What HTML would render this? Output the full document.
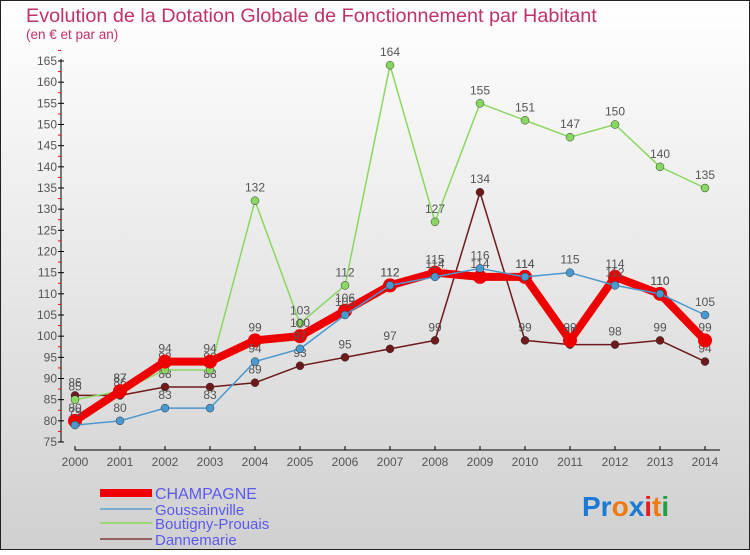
<!DOCTYPE html>
<html><head><meta charset="utf-8"><style>
body{margin:0;width:750px;height:550px;overflow:hidden;font-family:"Liberation Sans",sans-serif}
</style></head><body>
<svg id="c" width="750" height="550" xmlns="http://www.w3.org/2000/svg">
<defs><linearGradient id="bg" x1="0" y1="0" x2="0" y2="1"><stop offset="0" stop-color="#ffffff"/><stop offset="1" stop-color="#d0d0d0"/></linearGradient></defs>
<rect x="0.5" y="0.5" width="749" height="549" fill="url(#bg)" stroke="#222"/>
<text x="26" y="22" font-size="19.8" fill="#c0306a">Evolution de la Dotation Globale de Fonctionnement par Habitant</text>
<text x="26" y="39" font-size="13.5" fill="#c0306a">(en € et par an)</text>
<g id="axes"></g><g id="series"></g><g id="legend"></g>
<g font-size="28" font-weight="bold" font-family="'Liberation Sans',sans-serif">
<text x="582" y="516"><tspan fill="#1a7ad4">Pr</tspan><tspan fill="#f07a10">o</tspan><tspan fill="#1a7ad4">x</tspan><tspan fill="#e02020">i</tspan><tspan fill="#f07a10">t</tspan><tspan fill="#20a040">i</tspan></text>
</g>
</svg>
<script>
const years=[2000,2001,2002,2003,2004,2005,2006,2007,2008,2009,2010,2011,2012,2013,2014];
const champagne=[80,87,94,94,99,100,106,112,115,114,114,99,114,110,99];
const goussainville=[79,80,83,83,94,97,105,112,114,116,114,115,112,110,105];
const boutigny=[85,87,92,92,132,103,112,164,127,155,151,147,150,140,135];
const dannemarie=[86,86,88,88,89,93,95,97,99,134,99,98,98,99,94];
const yTicks=[75,80,85,90,95,100,105,110,115,120,125,130,135,140,145,150,155,160,165];
const NS='http://www.w3.org/2000/svg';
const X=i=>75+i*45;
const Y=v=>442-(v-75)*(381/90);
function mk(tag,attrs,parent){const e=document.createElementNS(NS,tag);for(const k in attrs)e.setAttribute(k,attrs[k]);parent.appendChild(e);return e;}
const axes=document.getElementById('axes');
let yl=mk('line',{x1:61,y1:Y(165)-2,x2:61,y2:Y(75),stroke:'#000'},axes);


yTicks.forEach(t=>{
  mk('line',{x1:58,x2:64,y1:Y(t),y2:Y(t),stroke:'#000'},axes);
  mk('line',{x1:58,x2:61,y1:Y(t+2.5),y2:Y(t+2.5),stroke:'#f00'},axes);
  const tx=mk('text',{x:57,y:Y(t)+4,'text-anchor':'end','font-size':12,fill:'#555'},axes);
  tx.textContent=t;
  
  
});
let xl=mk('line',{x1:75,y1:450,x2:720,y2:450,stroke:'#000'},axes);


years.forEach((y,i)=>{
  mk('line',{x1:X(i),x2:X(i),y1:446,y2:450,stroke:'#000'},axes);
  const tx=mk('text',{x:X(i),y:466,'text-anchor':'middle','font-size':12,fill:'#555'},axes);
  tx.textContent=y;
  
  
});
const ser=document.getElementById('series');
const defs=[
 {name:'dannemarie',data:dannemarie,c:'#6e1a1a',w:1.5,r:4},
 {name:'boutigny-prouais',data:boutigny,c:'#88d860',w:1.5,r:4},
 {name:'champagne',data:champagne,c:'#ee0000',w:8,r:7},
 {name:'goussainville',data:goussainville,c:'#4a98d0',w:1.5,r:4}
];
defs.forEach(s=>{
  const g=mk('g',{},ser);
  
  
  const pl=mk('polyline',{points:s.data.map((v,i)=>X(i)+','+Y(v)).join(' '),fill:'none',stroke:s.c,'stroke-width':s.w,'stroke-linejoin':'round'},g);
  
  
  s.data.forEach((v,i)=>{
    const c=mk('circle',{cx:X(i),cy:Y(v),r:s.r,fill:s.c,stroke:s.name==='champagne'?'#ee0000':'#333','stroke-width':s.name==='champagne'?0:0.5},g);
    
    
    const t=mk('text',{x:X(i),y:Y(v)-9,'text-anchor':'middle','font-size':12,fill:'#555'},g);
    t.textContent=v;
    
    
  });
});
const leg=document.getElementById('legend');
const li=[['CHAMPAGNE','#ee0000',8,'champagne'],['Goussainville','#7aaed0',2,'goussainville'],['Boutigny-Prouais','#98d878',2,'boutigny-prouais'],['Dannemarie','#946060',2,'dannemarie']];
const ly=[493,509,523,539];
li.forEach((l,i)=>{
  const g=mk('g',{},leg);
  
  
  mk('line',{x1:100,x2:152,y1:ly[i],y2:ly[i],stroke:l[1],'stroke-width':l[2]},g);
  const t=mk('text',{x:155,y:ly[i]+6,'font-size':i===0?16:15,fill:'#5a5aee'},g);
  t.textContent=l[0];
});
</script>
</body></html>
